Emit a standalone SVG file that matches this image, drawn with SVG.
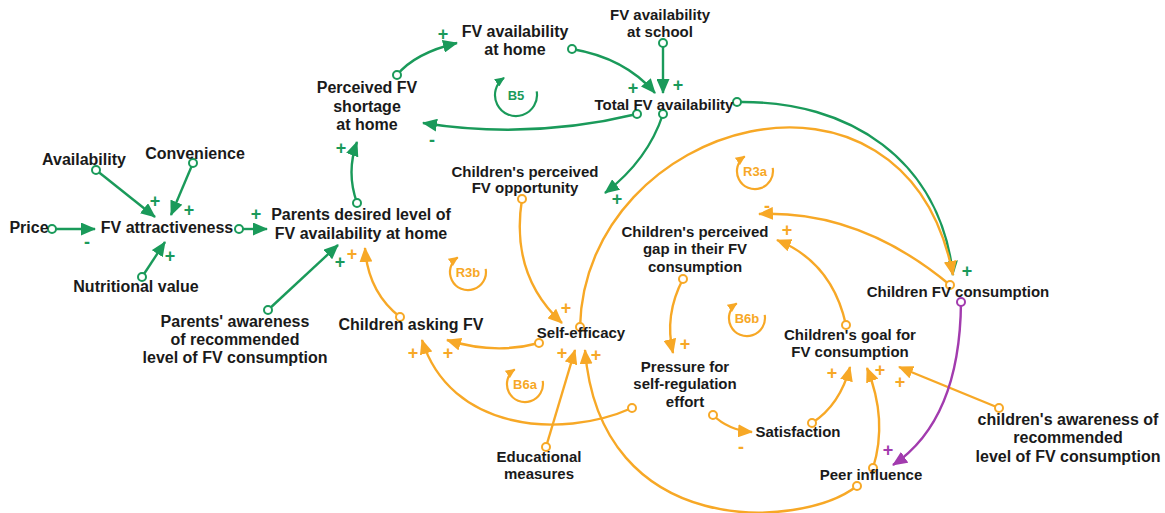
<svg xmlns="http://www.w3.org/2000/svg" width="1165" height="513" viewBox="0 0 1165 513">
<style>
.t{font-family:"Liberation Sans",Arial,sans-serif;font-weight:bold;fill:#1a1a1a;text-anchor:middle}
.s16{font-size:16px}.s15{font-size:15px}
.e{fill:none;stroke-width:2.4}
.g{stroke:#1a9a5a}.o{stroke:#f7a826}.p{stroke:#a23bae}
.eg{marker-start:url(#cg);marker-end:url(#ag)}
.eo{marker-start:url(#co);marker-end:url(#ao)}
.ep{marker-start:url(#cp);marker-end:url(#ap)}
.pol{font-family:"Liberation Sans",Arial,sans-serif;font-weight:bold;font-size:18px;text-anchor:middle}
.pg{fill:#1a9a5a}.po{fill:#f7a826}.pp{fill:#a23bae}
.loop{fill:none;stroke-width:2.2}
.lt{font-family:"Liberation Sans",Arial,sans-serif;font-weight:bold;font-size:13px;text-anchor:middle}
</style>
<defs>
<marker id="ag" markerUnits="userSpaceOnUse" markerWidth="15" markerHeight="13" refX="14" refY="6.5" orient="auto"><path d="M0,0 L15,6.5 L0,13 z" fill="#1a9a5a"/></marker>
<marker id="ao" markerUnits="userSpaceOnUse" markerWidth="15" markerHeight="13" refX="14" refY="6.5" orient="auto"><path d="M0,0 L15,6.5 L0,13 z" fill="#f7a826"/></marker>
<marker id="ap" markerUnits="userSpaceOnUse" markerWidth="15" markerHeight="13" refX="14" refY="6.5" orient="auto"><path d="M0,0 L15,6.5 L0,13 z" fill="#a23bae"/></marker>
<marker id="lg" markerUnits="userSpaceOnUse" markerWidth="10" markerHeight="9" refX="9" refY="4.5" orient="auto"><path d="M0,0 L10,4.5 L0,9 z" fill="#1a9a5a"/></marker>
<marker id="lo" markerUnits="userSpaceOnUse" markerWidth="10" markerHeight="9" refX="9" refY="4.5" orient="auto"><path d="M0,0 L10,4.5 L0,9 z" fill="#f7a826"/></marker>
<marker id="cg" markerUnits="userSpaceOnUse" markerWidth="12" markerHeight="12" refX="6" refY="6"><circle cx="6" cy="6" r="4" fill="#fff" stroke="#1a9a5a" stroke-width="2"/></marker>
<marker id="co" markerUnits="userSpaceOnUse" markerWidth="12" markerHeight="12" refX="6" refY="6"><circle cx="6" cy="6" r="4" fill="#fff" stroke="#f7a826" stroke-width="2"/></marker>
<marker id="cp" markerUnits="userSpaceOnUse" markerWidth="12" markerHeight="12" refX="6" refY="6"><circle cx="6" cy="6" r="4" fill="#fff" stroke="#a23bae" stroke-width="2"/></marker>
</defs>
<rect width="1165" height="513" fill="#fff"/>

<g id="connectors">
<path class="e g eg" d="M52,229 L95,229"/>
<path class="e g eg" d="M96,170 L155,217"/>
<path class="e g eg" d="M193,163 L171,215"/>
<path class="e g eg" d="M142,277 L165,242"/>
<path class="e g eg" d="M239,229 L267,229"/>
<path class="e g eg" d="M357,203 Q346,172 357,142"/>
<path class="e g eg" d="M397,75 Q415,53 457,43"/>
<path class="e g eg" d="M572,49 Q625,58 655,93"/>
<path class="e g eg" d="M663,43 L663,93"/>
<path class="e g eg" d="M637,114 Q530,140 423,123"/>
<path class="e g eg" d="M663,114 Q648,160 605,193"/>
<path class="e g eg" d="M737,102 C850,100 940,160 953,275"/>
<path class="e g eg" d="M268,310 L338,245"/>

<path class="e o eo" d="M522,199 Q510,275 562,323"/>
<path class="e o eo" d="M580,327 C585,120 905,30 953,275"/>
<path class="e o eo" d="M950,285 Q860,210 759,214"/>
<path class="e o eo" d="M846,325 Q832,262 777,240"/>
<path class="e o eo" d="M683,279 Q664,315 673,353"/>
<path class="e o eo" d="M713,415 Q728,430 752,432"/>
<path class="e o eo" d="M812,423 Q840,405 850,367"/>
<path class="e o eo" d="M873,468 Q888,420 867,368"/>
<path class="e o eo" d="M999,408 L899,367"/>
<path class="e o eo" d="M857,486 C800,530 600,540 585,350"/>
<path class="e o eo" d="M546,447 L575,350"/>
<path class="e o eo" d="M539,343 Q495,355 447,340"/>
<path class="e o eo" d="M632,408 C560,440 450,430 422,340"/>
<path class="e o eo" d="M400,317 Q368,292 365,248"/>

<path class="e p ep" d="M961,302 Q960,420 893,465"/>
</g>

<g id="polarities">
<text class="pol pg" x="87" y="248">-</text>
<text class="pol pg" x="155" y="207">+</text>
<text class="pol pg" x="189" y="216">+</text>
<text class="pol pg" x="170" y="262">+</text>
<text class="pol pg" x="256" y="220">+</text>
<text class="pol pg" x="341" y="154">+</text>
<text class="pol pg" x="443" y="40">+</text>
<text class="pol pg" x="633" y="94">+</text>
<text class="pol pg" x="678" y="91">+</text>
<text class="pol pg" x="432" y="146">-</text>
<text class="pol pg" x="617" y="205">+</text>
<text class="pol pg" x="967" y="277">+</text>
<text class="pol pg" x="340" y="268">+</text>

<text class="pol po" x="566" y="314">+</text>
<text class="pol po" x="767" y="212">-</text>
<text class="pol po" x="787" y="236">+</text>
<text class="pol po" x="685" y="350">+</text>
<text class="pol po" x="741" y="453">-</text>
<text class="pol po" x="832" y="379">+</text>
<text class="pol po" x="880" y="376">+</text>
<text class="pol po" x="900" y="388">+</text>
<text class="pol po" x="596" y="361">+</text>
<text class="pol po" x="562" y="359">+</text>
<text class="pol po" x="448" y="359">+</text>
<text class="pol po" x="413" y="359">+</text>
<text class="pol po" x="352" y="260">+</text>
<text class="pol pp" x="888" y="456">+</text>
</g>

<g id="loops">
<path class="loop g" d="M536.7,91.4 A21,21 0 1 1 504,77.8" marker-end="url(#lg)"/>
<text class="lt pg" x="516" y="100">B5</text>
<path class="loop o" d="M772.7,167.9 A18,18 0 1 1 744.7,156.3" marker-end="url(#lo)"/>
<text class="lt po" x="755" y="176">R3a</text>
<path class="loop o" d="M485.7,268.9 A18,18 0 1 1 457.7,257.3" marker-end="url(#lo)"/>
<text class="lt po" x="468" y="277">R3b</text>
<path class="loop o" d="M764.7,314.9 A18,18 0 1 1 736.7,303.3" marker-end="url(#lo)"/>
<text class="lt po" x="747" y="323">B6b</text>
<path class="loop o" d="M542.7,380.9 A18,18 0 1 1 514.7,369.3" marker-end="url(#lo)"/>
<text class="lt po" x="525" y="389">B6a</text>
</g>

<g id="availability"><text class="t s16" x="84" y="165">Availability</text></g>
<g id="convenience"><text class="t s16" x="195" y="159">Convenience</text></g>
<g id="price"><text class="t s16" x="29" y="233">Price</text></g>
<g id="fv-attractiveness"><text class="t s16" x="167" y="233">FV attractiveness</text></g>
<g id="nutritional-value"><text class="t s16" x="136" y="292">Nutritional value</text></g>
<g id="parents-desired"><text class="t s16" x="361" y="220">Parents desired level of</text><text class="t s16" x="361" y="239">FV availability at home</text></g>
<g id="parents-awareness"><text class="t s16" x="235" y="327">Parents' awareness</text><text class="t s16" x="235" y="345">of recommended</text><text class="t s16" x="235" y="363">level of FV consumption</text></g>
<g id="perceived-shortage"><text class="t s16" x="367" y="93">Perceived FV</text><text class="t s16" x="367" y="112">shortage</text><text class="t s16" x="367" y="130">at home</text></g>
<g id="fv-home"><text class="t s16" x="515" y="37">FV availability</text><text class="t s16" x="515" y="55">at home</text></g>
<g id="fv-school"><text class="t s15" x="660" y="20">FV availability</text><text class="t s15" x="660" y="37">at school</text></g>
<g id="total-fv"><text class="t s15" x="664" y="110">Total FV availability</text></g>
<g id="perceived-opportunity"><text class="t s15" x="525" y="177">Children's perceived</text><text class="t s15" x="525" y="193">FV opportunity</text></g>
<g id="children-asking"><text class="t s16" x="411" y="330">Children asking FV</text></g>
<g id="self-efficacy"><text class="t s15" x="581" y="338">Self-efficacy</text></g>
<g id="perceived-gap"><text class="t s15" x="695" y="237">Children's perceived</text><text class="t s15" x="695" y="254">gap in their FV</text><text class="t s15" x="695" y="272">consumption</text></g>
<g id="children-consumption"><text class="t s15" x="958" y="297">Children FV consumption</text></g>
<g id="children-goal"><text class="t s15" x="850" y="340">Children's goal for</text><text class="t s15" x="850" y="357">FV consumption</text></g>
<g id="pressure"><text class="t s15" x="685" y="372">Pressure for</text><text class="t s15" x="685" y="389">self-regulation</text><text class="t s15" x="685" y="407">effort</text></g>
<g id="satisfaction"><text class="t s15" x="798" y="437">Satisfaction</text></g>
<g id="educational"><text class="t s15" x="539" y="462">Educational</text><text class="t s15" x="539" y="479">measures</text></g>
<g id="peer-influence"><text class="t s15" x="871" y="480">Peer influence</text></g>
<g id="children-awareness"><text class="t s16" x="1068" y="425">children's awareness of</text><text class="t s16" x="1068" y="443">recommended</text><text class="t s16" x="1068" y="462">level of FV consumption</text></g>
</svg>
